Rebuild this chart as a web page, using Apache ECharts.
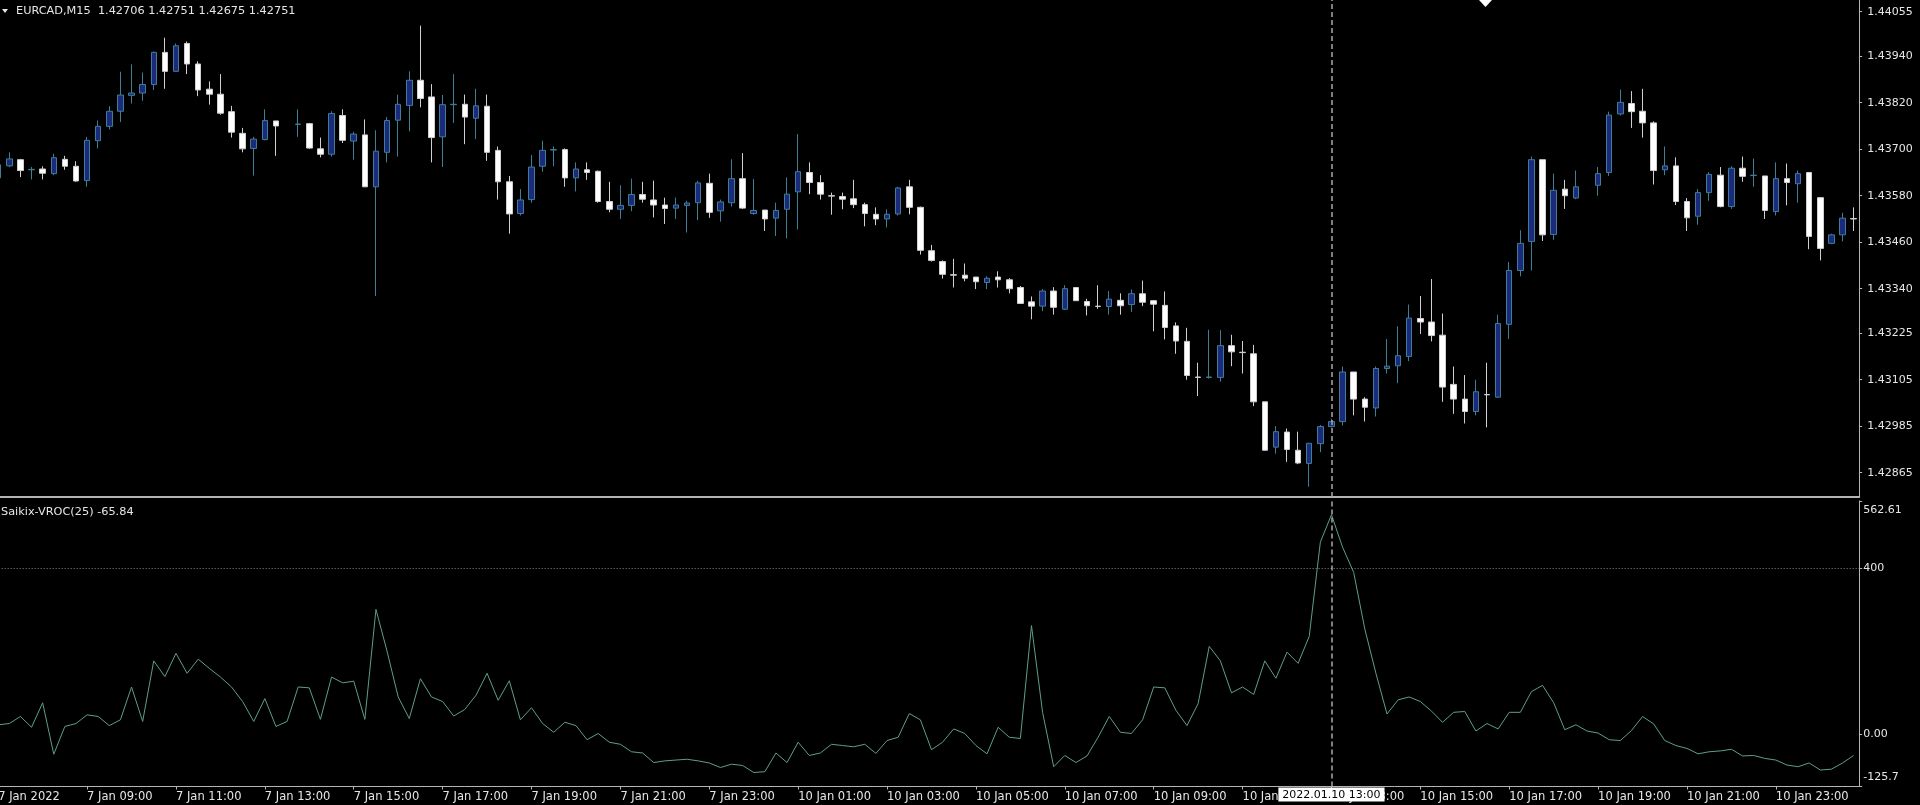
<!DOCTYPE html>
<html><head><meta charset="utf-8">
<style>html,body{margin:0;padding:0;background:#000;}#c{width:1920px;height:805px;}</style>
<script src="https://cdn.jsdelivr.net/npm/echarts@6/dist/echarts.min.js"></script>
</head><body><div id="c"></div>
<script>
const symbolName = 'EURCAD,M15';
const headerValues = ['1.42706', '1.42751', '1.42675', '1.42751'];
const indicatorName = 'Saikix-VROC(25)';
const indicatorValue = '-65.84';
const priceTicks = [1.44055, 1.43940, 1.43820, 1.43700, 1.43580, 1.43460, 1.43340, 1.43225, 1.43105, 1.42985, 1.42865];
const vrocTicks = [562.61, 400, 0, -125.7];
const levelValue = 400;
const crosshairIndex = 120;

const open = [
1.43626,1.43657,1.43673,1.43647,1.43649,1.43637,1.43674,1.43656,1.43619,1.43722,
1.43759,1.43798,1.43839,1.43845,1.43867,1.43950,1.43901,1.43973,1.43920,1.43855,
1.43842,1.43797,1.43741,1.43702,1.43725,1.43773,null,1.43764,1.43766,1.43701,
1.43687,1.43787,1.43721,1.43737,1.43603,1.43692,1.43775,1.43813,1.43878,1.43835,
1.43732,1.43815,1.43816,1.43780,1.43811,1.43697,1.43616,1.43534,1.43570,1.43656,
1.43698,1.43699,1.43626,1.43647,1.43643,1.43565,1.43545,1.43555,1.43583,1.43569,
1.43556,1.43548,1.43555,1.43562,1.43612,1.43541,1.43562,1.43624,1.43534,1.43543,
1.43522,1.43545,1.43590,1.43640,1.43614,1.43580,1.43578,1.43572,1.43557,1.43532,
1.43520,1.43533,1.43603,1.43550,1.43438,1.43410,1.43376,1.43375,1.43370,1.43356,
1.43370,1.43363,1.43343,1.43306,1.43295,1.43334,1.43287,1.43343,1.43307,1.43295,
1.43294,1.43310,1.43299,1.43327,1.43309,1.43297,1.43244,1.43204,1.43112,1.43111,
1.43111,1.43193,1.43176,1.43172,1.43048,1.42931,1.42970,1.42923,1.42889,1.42940,
1.42984,1.42997,1.43125,1.43055,1.43032,1.43134,1.43141,1.43165,1.43263,1.43254,
1.43220,1.43093,1.43055,1.43023,1.43067,1.43060,1.43248,1.43387,1.43462,1.43673,
1.43480,1.43597,1.43574,null,1.43607,1.43640,1.43791,1.43818,1.43798,1.43768,
1.43647,1.43657,1.43565,1.43527,1.43588,1.43633,1.43552,1.43651,1.43632,1.43631,
1.43539,1.43624,1.43611,1.43640,1.43575,1.43457,1.43479,1.43521];
const high = [
1.43666,1.43692,1.43675,1.43654,1.43656,1.43688,1.43683,1.43669,1.43732,1.43774,
1.43811,1.43900,1.43919,1.43898,1.43952,1.43988,1.43973,1.43978,1.43927,1.43875,
1.43894,1.43812,1.43755,1.43732,1.43803,1.43773,null,1.43803,1.43768,1.43730,
1.43798,1.43803,1.43745,1.43777,1.43749,1.43783,1.43841,1.43901,1.44019,1.43868,
1.43840,1.43894,1.43841,1.43856,1.43841,1.43707,1.43631,1.43597,1.43685,1.43722,
1.43707,1.43702,1.43666,1.43666,1.43645,1.43616,1.43607,1.43624,1.43616,1.43619,
1.43575,1.43575,1.43567,1.43618,1.43637,1.43570,1.43674,1.43690,1.43623,1.43543,
1.43562,1.43627,1.43739,1.43666,1.43633,1.43588,1.43588,1.43621,1.43562,1.43550,
1.43545,1.43603,1.43621,1.43552,1.43453,1.43413,1.43417,1.43405,1.43370,1.43372,
1.43385,1.43367,1.43347,1.43320,1.43339,1.43344,1.43349,1.43343,1.43314,1.43349,
1.43334,1.43328,1.43338,1.43361,1.43311,1.43333,1.43253,1.43239,1.43149,1.43234,
1.43233,1.43221,1.43205,1.43195,1.43048,1.42985,1.42979,1.42971,1.42941,1.42988,
1.43004,1.43139,1.43125,1.43060,1.43139,1.43210,1.43243,1.43299,1.43321,1.43365,
1.43276,1.43139,1.43117,1.43105,1.43149,1.43273,1.43409,1.43491,1.43681,1.43673,
1.43637,1.43621,1.43645,null,1.43654,1.43797,1.43854,1.43850,1.43856,1.43772,
1.43707,1.43679,1.43574,1.43597,1.43641,1.43654,1.43656,1.43681,1.43676,1.43631,
1.43666,1.43663,1.43645,1.43640,1.43575,1.43482,1.43536,1.43550];
const low = [
1.43622,1.43654,1.43628,1.43622,1.43622,1.43633,1.43647,1.43616,1.43603,1.43702,
1.43751,1.43770,1.43818,1.43825,1.43853,1.43856,1.43901,1.43894,1.43837,1.43815,
1.43789,1.43730,1.43692,1.43632,1.43723,1.43683,null,1.43732,1.43701,1.43679,
1.43681,1.43716,1.43673,1.43603,1.43321,1.43666,1.43681,1.43746,1.43808,1.43666,
1.43654,1.43768,1.43713,1.43726,1.43670,1.43570,1.43482,1.43529,1.43562,1.43642,
1.43656,1.43603,1.43591,1.43621,1.43562,1.43537,1.43520,1.43540,1.43562,1.43524,
1.43507,1.43520,1.43485,1.43517,1.43523,1.43513,1.43552,1.43546,1.43531,1.43489,
1.43476,1.43470,1.43493,1.43584,1.43570,1.43531,1.43545,1.43548,1.43501,1.43504,
1.43498,1.43529,1.43532,1.43428,1.43410,1.43366,1.43343,1.43359,1.43339,1.43339,
1.43343,1.43328,1.43301,1.43261,1.43282,1.43273,1.43285,1.43309,1.43271,1.43288,
1.43273,1.43273,1.43280,1.43295,1.43230,1.43209,1.43172,1.43105,1.43063,1.43108,
1.43100,1.43140,1.43121,1.43037,1.42922,1.42914,1.42893,1.42887,1.42829,1.42918,
1.42982,1.42987,1.43013,1.42997,1.43010,1.43121,1.43096,1.43153,1.43223,1.43204,
1.43048,1.43017,1.42992,1.43013,1.42982,1.43058,1.43210,1.43372,1.43387,1.43463,
1.43466,1.43546,1.43571,null,1.43580,1.43631,1.43787,1.43755,1.43730,1.43609,
1.43633,1.43556,1.43489,1.43505,1.43567,1.43550,1.43546,1.43616,1.43603,1.43520,
1.43529,1.43555,1.43562,1.43442,1.43413,1.43455,1.43462,1.43489];
const close = [
1.43660,1.43675,1.43645,1.43648,1.43638,1.43678,1.43656,1.43618,1.43723,1.43759,
1.43798,1.43840,1.43845,1.43867,1.43950,1.43901,1.43967,1.43920,1.43853,1.43842,
1.43793,1.43744,1.43701,1.43726,1.43774,1.43760,null,1.43765,1.43703,1.43687,
1.43792,1.43723,1.43739,1.43603,1.43695,1.43774,1.43816,1.43878,1.43831,1.43730,
1.43815,1.43816,1.43783,1.43812,1.43692,1.43616,1.43533,1.43569,1.43654,1.43697,
1.43699,1.43626,1.43649,1.43640,1.43565,1.43545,1.43555,1.43583,1.43571,1.43556,
1.43547,1.43556,1.43561,1.43613,1.43537,1.43564,1.43624,1.43548,1.43542,1.43520,
1.43542,1.43584,1.43642,1.43614,1.43584,1.43579,1.43571,1.43557,1.43534,1.43520,
1.43532,1.43600,1.43550,1.43439,1.43413,1.43377,1.43375,1.43367,1.43358,1.43367,
1.43363,1.43340,1.43302,1.43295,1.43334,1.43292,1.43340,1.43309,1.43296,1.43294,
1.43313,1.43296,1.43327,1.43305,1.43300,1.43240,1.43205,1.43116,1.43111,1.43112,
1.43193,1.43177,1.43175,1.43048,1.42923,1.42971,1.42925,1.42890,1.42941,1.42984,
1.42997,1.43125,1.43055,1.43034,1.43134,1.43140,1.43167,1.43264,1.43254,1.43219,
1.43086,1.43055,1.43023,1.43074,1.43066,1.43250,1.43387,1.43457,1.43673,1.43479,
1.43594,1.43580,1.43603,null,1.43637,1.43788,1.43821,1.43797,1.43768,1.43645,
1.43657,1.43565,1.43523,1.43588,1.43635,1.43552,1.43651,1.43630,1.43633,1.43542,
1.43624,1.43614,1.43637,1.43475,1.43444,1.43479,1.43522,1.43520];
const vroc = [
23,26,43,17,76,-48,19,26,47,43,
21,35,114,31,177,139,195,147,181,159,
138,114,79,31,86,19,31,114,112,36,
138,124,128,36,301,200,90,38,134,90,
79,44,60,94,147,82,129,35,64,26,
5,29,21,-13,2,-19,-24,-42,-45,-68,
-64,-62,-60,-64,-69,-80,-72,-75,-92,-90,
-45,-68,-19,-51,-45,-24,-27,-30,-24,-46,
-15,-7,50,35,-37,-19,13,2,-27,-47,
17,-7,-10,262,53,-78,-51,-68,-52,-7,
43,5,2,35,114,112,58,21,74,212,
177,100,114,96,177,135,198,171,236,463,
529,451,390,254,147,49,83,90,79,56,
29,53,55,8,26,13,53,53,103,118,
76,11,23,8,3,-13,-15,9,43,25,
-15,-27,-34,-47,-42,-40,-36,-52,-51,-58,
-62,-74,-78,-69,-86,-84,-69,-51];

// 15-minute bar times: Fri 7 Jan from 07:00, Mon 10 Jan full day, Tue 11 Jan first hour
const sessions = [{d: 7, from: 28, to: 95}, {d: 10, from: 0, to: 95}, {d: 11, from: 0, to: 3}];
const pad = n => (n < 10 ? '0' : '') + n;
const categories = [];
sessions.forEach(s => { for (let q = s.from; q <= s.to; q++) categories.push('2022.01.' + pad(s.d) + ' ' + pad(Math.floor(q / 4)) + ':' + pad((q % 4) * 15)); });

const candles = open.map((o, i) => o === null ? '-' : [o, close[i], low[i], high[i]]);

const FONT = 'DejaVu Sans';
const TXT = '#e6e6e6';
const AX = '#b4b4b4';

function showLabel(idx) {
  if (idx === 0) return true;
  const t = categories[idx].slice(11);
  const h = +t.slice(0, 2), m = +t.slice(3);
  return m === 0 && h % 2 === 1;
}
function fmtLabel(val, idx) {
  const d = +val.slice(8, 10);
  if (idx === 0) return d + ' Jan ' + val.slice(0, 4);
  return d + ' Jan ' + val.slice(11);
}

const chart = echarts.init(document.getElementById('c'), null, {renderer: 'canvas'});
chart.setOption({
  backgroundColor: '#000',
  animation: false,
  grid: [
    {left: -7.35, right: 60.8, top: 0, height: 497, containLabel: false, outerBoundsMode: 'none'},
    {left: -7.35, right: 60.8, top: 500.8, height: 285.7, containLabel: false, outerBoundsMode: 'none'}
  ],
  xAxis: [
    {type: 'category', gridIndex: 0, data: categories, boundaryGap: true,
     axisLine: {show: true, onZero: false, lineStyle: {color: AX, width: 2}}, axisTick: {show: false}, axisLabel: {show: false}, splitLine: {show: false}},
    {type: 'category', gridIndex: 1, data: categories, boundaryGap: true,
     axisLine: {show: true, onZero: false, lineStyle: {color: AX, width: 1}},
     axisTick: {show: true, alignWithLabel: true, interval: showLabel, length: 3, lineStyle: {color: AX}},
     axisLabel: {show: true, interval: showLabel, formatter: fmtLabel, align: 'left', margin: 5, color: TXT, fontFamily: FONT, fontSize: 11.5},
     splitLine: {show: false}}
  ],
  yAxis: [
    {type: 'value', gridIndex: 0, position: 'right', min: 1.428023, max: 1.440852, scale: true,
     axisLine: {show: true, lineStyle: {color: AX}},
     axisTick: {show: true, length: 3, customValues: priceTicks, lineStyle: {color: AX}},
     axisLabel: {show: true, customValues: priceTicks, formatter: v => v.toFixed(5), margin: 8, color: TXT, fontFamily: FONT, fontSize: 11},
     splitLine: {show: false}},
    {type: 'value', gridIndex: 1, position: 'right', min: -125.7, max: 562.61,
     axisLine: {show: true, lineStyle: {color: AX}},
     axisTick: {show: true, length: 3, customValues: vrocTicks, lineStyle: {color: AX}},
     axisLabel: {show: true, customValues: vrocTicks, margin: 4, color: TXT, fontFamily: FONT, fontSize: 11,
       formatter: v => v === vrocTicks[0] ? '{top|' + v.toFixed(2) + '}' : (v === vrocTicks[3] ? '{bot|' + v + '}' : (v === 0 ? '0.00' : String(v))),
       rich: {
         top: {padding: [18, 0, 0, 0], color: TXT, fontFamily: FONT, fontSize: 11},
         bot: {padding: [0, 0, 19, 0], color: TXT, fontFamily: FONT, fontSize: 11}
       }},
     splitLine: {show: false}}
  ],
  series: [
    {type: 'candlestick', xAxisIndex: 0, yAxisIndex: 0, data: candles, barWidth: 6,
     itemStyle: {color: '#1b2a7d', color0: '#ffffff', borderColor: '#3e7f95', borderColor0: '#cfcfcf', borderWidth: 1},
     markLine: {silent: true, symbol: ['none', 'none'], label: {show: false},
       lineStyle: {color: '#a8a8a8', type: [5, 3], width: 1.5},
       data: [{xAxis: crosshairIndex}]}},
    {type: 'line', xAxisIndex: 1, yAxisIndex: 1, data: vroc, showSymbol: false, symbol: 'none',
     lineStyle: {color: '#5e9d8d', width: 1},
     markLine: {silent: true, symbol: ['none', 'none'],
       data: [
         {yAxis: levelValue, lineStyle: {color: '#8c8c8c', type: [1, 2], width: 1}, label: {show: false}},
         {xAxis: crosshairIndex, lineStyle: {color: '#a8a8a8', type: [5, 3], width: 1.5},
          label: {show: true, position: 'start', distance: 1, formatter: categories[crosshairIndex],
            backgroundColor: '#ffffff', color: '#000000', padding: [2, 4, 1, 4], fontFamily: FONT, fontSize: 11}}
       ]}}
  ],
  graphic: [
    {type: 'polygon', shape: {points: [[2, 9], [8, 9], [5, 13]]}, style: {fill: TXT}},
    {type: 'text', x: 16, y: 11.5, style: {text: symbolName + '  ' + headerValues.join(' '), fill: TXT, font: '11.3px ' + FONT, textVerticalAlign: 'middle'}},
    {type: 'text', x: 1, y: 512, style: {text: indicatorName + ' ' + indicatorValue, fill: TXT, font: '11.3px ' + FONT, textVerticalAlign: 'middle'}},
    {type: 'polygon', shape: {points: [[1479, 0], [1492, 0], [1485.5, 7]]}, style: {fill: '#ffffff'}}
  ]
});
</script></body></html>
